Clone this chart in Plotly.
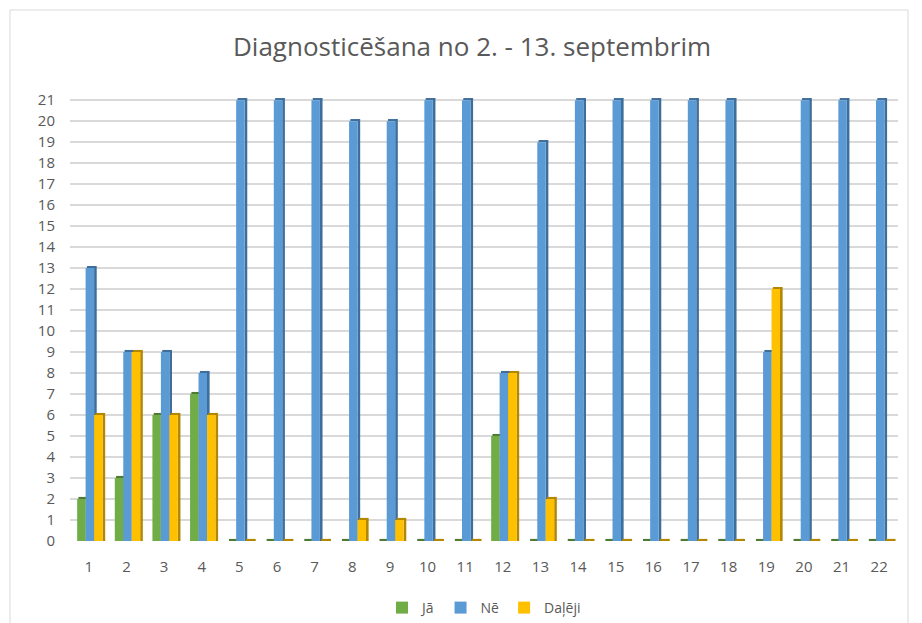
import plotly.graph_objects as go

categories = [str(i) for i in range(1, 23)]
ja =     [2, 3, 6, 7, 0, 0, 0, 0, 0, 0, 0, 5, 0, 0, 0, 0, 0, 0, 0, 0, 0, 0]
ne =     [13, 9, 9, 8, 21, 21, 21, 20, 20, 21, 21, 8, 19, 21, 21, 21, 21, 21, 9, 21, 21, 21]
daleji = [6, 9, 6, 6, 0, 0, 0, 1, 1, 0, 0, 8, 2, 0, 0, 0, 0, 0, 12, 0, 0, 0]
y_ticks = list(range(0, 22))

series = [
    ("Jā", ja, "#70ad47", "#4f7a32"),
    ("Nē", ne, "#5b9bd5", "#3d6e9c"),
    ("Daļēji", daleji, "#ffc000", "#b38700"),
]

front_w = 0.225
side_w = 0.07
cap_h = 0.1
offsets = [-0.31, -0.085, 0.14]

fig = go.Figure()
for (name, vals, col, dark), off in zip(series, offsets):
    # side face
    fig.add_trace(go.Bar(
        x=categories, y=[v + cap_h for v in vals], base=0,
        offset=off + front_w, width=side_w,
        marker=dict(color=dark, line=dict(width=0)),
        showlegend=False, hoverinfo="skip"))
    # top cap
    fig.add_trace(go.Bar(
        x=categories, y=[cap_h] * len(vals), base=vals,
        offset=off + side_w * 0.5, width=front_w,
        marker=dict(color=dark, line=dict(width=0)),
        showlegend=False, hoverinfo="skip"))
    # front face
    fig.add_trace(go.Bar(
        x=categories, y=vals, name=name,
        offset=off, width=front_w,
        marker=dict(color=col, line=dict(width=0)),
        hovertemplate=name + ": %{y}<extra></extra>"))

W, H = 922, 623
l, r, t, b = 70, 24, 97, 82
pw = W - l - r
ph = H - t - b

fig.update_layout(
    width=W, height=H,
    barmode="overlay",
    paper_bgcolor="white", plot_bgcolor="white",
    margin=dict(l=l, r=r, t=t, b=b, autoexpand=False),
    font=dict(family="Open Sans, sans-serif", color="#595959"),
    title=dict(text="Diagnosticēšana no 2. - 13. septembrim",
               x=472 / W, xanchor="center", y=1 - 47 / H, yanchor="middle",
               font=dict(size=26, color="#595959", family="Open Sans, sans-serif")),
    xaxis=dict(type="category", categoryorder="array", categoryarray=categories,
               range=[-0.5, 21.5], showgrid=False, zeroline=False, showline=False,
               ticks="", tickfont=dict(size=15, color="#595959"), ticklabelstandoff=15),
    yaxis=dict(range=[0, 21.15], tickvals=y_ticks, ticktext=[str(v) for v in y_ticks],
               showgrid=True, gridcolor="#d9d9d9", gridwidth=2,
               zeroline=False, showline=False, ticks="",
               tickfont=dict(size=15, color="#595959"), ticklabelstandoff=14),
    legend=dict(orientation="h", x=0.5, xanchor="center",
                y=(t + ph - 608) / ph, yanchor="middle",
                font=dict(size=14, color="#595959"),
                itemwidth=30, traceorder="normal"),
    shapes=[dict(type="rect", xref="paper", yref="paper",
                 x0=(10 - l) / pw, x1=(908 - l) / pw,
                 y0=(t + ph - 640) / ph, y1=(t + ph - 10) / ph,
                 line=dict(color="#d9d9d9", width=1), fillcolor="rgba(0,0,0,0)",
                 layer="below")],
)

fig.write_html("out.html", config={"displayModeBar": False},
               post_script="document.body.style.margin='0';document.body.style.overflow='hidden';")
